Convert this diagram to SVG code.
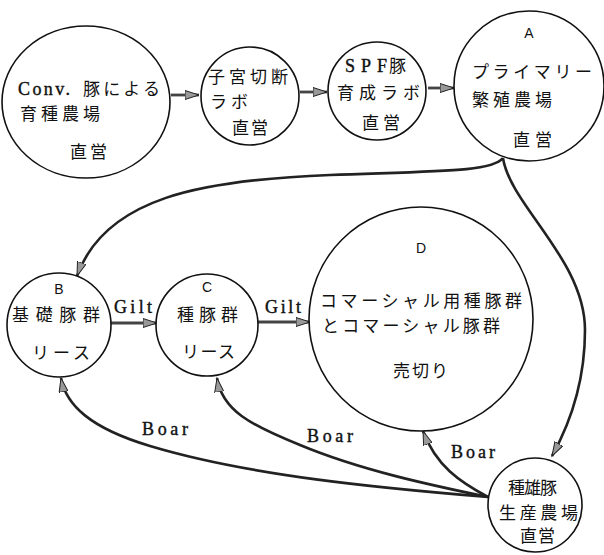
<svg xmlns="http://www.w3.org/2000/svg" width="604" height="555" viewBox="0 0 604 555">
<style>
.n{fill:#fff;stroke:#111;stroke-width:1.6}
.jp{font-family:"Noto Sans CJK JP","Noto Sans",sans-serif;font-size:17px;fill:#111}
.lt{font-family:"Liberation Serif",serif;font-size:18px;fill:#111;stroke:#111;stroke-width:0.4}
.ab{font-family:"Liberation Sans",sans-serif;font-size:14px;fill:#111}
.c{fill:none;stroke:#222;stroke-width:2.6}
.g{fill:none;stroke:#444;stroke-width:2.8}
</style>
<defs>
<marker id="ah" markerUnits="userSpaceOnUse" markerWidth="16" markerHeight="10" refX="14" refY="5" orient="auto">
<path d="M0,0.5 L14,5 L0,9.5 z" fill="#999" stroke="#222" stroke-width="1"/>
</marker>
</defs>
<g id="connectors">
<path class="g" d="M171 95 L199 95" marker-end="url(#ah)"/>
<path class="g" d="M300 92 L327 92" marker-end="url(#ah)"/>
<path class="g" d="M428 88 L454 88" marker-end="url(#ah)"/>
<path class="g" d="M110 323 L157 323" marker-end="url(#ah)"/>
<path class="g" d="M258 322 L310 322" marker-end="url(#ah)"/>
<path class="c" d="M503 158 C492 172 440 171 330 175 C200 180 105 198 77 276" marker-end="url(#ah)"/>
<path class="c" d="M503 158 C510 205 585 260 585 330 C585 380 572 420 552 456" marker-end="url(#ah)"/>
<path class="c" d="M488 497 C380 488 250 476 150 446 C90 428 66 405 61 378" marker-end="url(#ah)"/>
<path class="c" d="M488 497 C430 485 360 470 300 445 C250 425 222 410 217 378" marker-end="url(#ah)"/>
<path class="c" d="M488 497 C460 482 436 466 423 431" marker-end="url(#ah)"/>
<text class="lt" x="133" y="313" text-anchor="middle" textLength="38">Gilt</text>
<text class="lt" x="283" y="313" text-anchor="middle" textLength="36">Gilt</text>
<text class="lt" x="165" y="435" text-anchor="middle" textLength="46">Boar</text>
<text class="lt" x="330" y="442" text-anchor="middle" textLength="46">Boar</text>
<text class="lt" x="473" y="458" text-anchor="middle" textLength="44">Boar</text>
</g>
<g id="conv">
<ellipse class="n" cx="86" cy="102" rx="84" ry="76"/>
<text class="lt" x="18" y="95" textLength="52">Conv.</text>
<text class="jp" x="83" y="95" textLength="77">豚による</text>
<text class="jp" x="20" y="120" textLength="80">育種農場</text>
<text class="jp" x="70" y="158" textLength="37">直営</text>
</g>
<g id="lab1">
<circle class="n" cx="250" cy="96" r="49"/>
<text class="jp" x="208" y="83" textLength="80">子宮切断</text>
<text class="jp" x="210" y="108" textLength="38">ラボ</text>
<text class="jp" x="232" y="134" textLength="36">直営</text>
</g>
<g id="lab2">
<circle class="n" cx="377" cy="91" r="49"/>
<text class="lt" x="345" y="72" textLength="42">SPF</text>
<text class="jp" x="389" y="72">豚</text>
<text class="jp" x="337" y="99" textLength="83">育成ラボ</text>
<text class="jp" x="362" y="129" textLength="38">直営</text>
</g>
<g id="A">
<circle class="n" cx="529" cy="86" r="75"/>
<text class="ab" x="529" y="38" text-anchor="middle">A</text>
<text class="jp" x="472" y="78" textLength="120">プライマリー</text>
<text class="jp" x="472" y="106" textLength="80">繁殖農場</text>
<text class="jp" x="513" y="146" textLength="39">直営</text>
</g>
<g id="B">
<circle class="n" cx="59" cy="325" r="52"/>
<text class="ab" x="59" y="294" text-anchor="middle">B</text>
<text class="jp" x="12" y="321" textLength="88">基礎豚群</text>
<text class="jp" x="32" y="359" textLength="58">リース</text>
</g>
<g id="C">
<circle class="n" cx="207" cy="325" r="51"/>
<text class="ab" x="207" y="292" text-anchor="middle">C</text>
<text class="jp" x="177" y="321" textLength="61">種豚群</text>
<text class="jp" x="182" y="358" textLength="53">リース</text>
</g>
<g id="D">
<circle class="n" cx="421" cy="319" r="112"/>
<text class="ab" x="421" y="253" text-anchor="middle">D</text>
<text class="jp" x="320" y="307" textLength="202">コマーシャル用種豚群</text>
<text class="jp" x="322" y="332" textLength="178">とコマーシャル豚群</text>
<text class="jp" x="393" y="377" textLength="55">売切り</text>
</g>
<g id="boarfarm">
<circle class="n" cx="535" cy="505" r="47"/>
<text class="jp" x="508" y="494" textLength="49">種雄豚</text>
<text class="jp" x="499" y="519" textLength="79">生産農場</text>
<text class="jp" x="520" y="542" textLength="35">直営</text>
</g>
</svg>
